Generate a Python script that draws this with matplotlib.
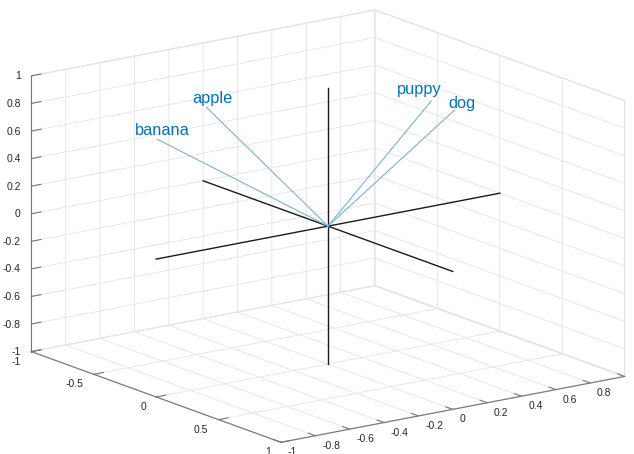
import numpy as np
import matplotlib.pyplot as plt
from matplotlib.transforms import offset_copy

plt.rcParams['font.family'] = ['Liberation Sans', 'DejaVu Sans']
plt.rcParams['grid.color'] = '#e4e4e4'
plt.rcParams['grid.linewidth'] = 0.6

# word vectors
words = ['banana', 'apple', 'puppy', 'dog']
vec_x = [-0.47, -0.34, 0.29, 0.35]
vec_y = [-0.65, -0.46, 0.39, 0.48]
vec_z = [0.63, 0.86, 0.91, 0.84]

# label offsets from the vector tips, in points
label_dx = [-16, -10, -24.5, -4.3]
label_dy = [3, 3, 5, 2]

# reference axes through the origin
span = [-1, 1]
zero = [0, 0]

x_ticks = [-1, -0.5, 0, 0.5, 1]
y_ticks = np.round(np.arange(-1, 1.01, 0.2), 1) + 0.0
z_ticks = np.round(np.arange(-1, 1.01, 0.2), 1) + 0.0

fig = plt.figure(figsize=(6.34, 4.54), dpi=100)
ax = fig.add_axes([0.0038, -0.215, 1.0, 1.396], projection='3d', proj_type='ortho')
ax.view_init(elev=15.3, azim=-36)
ax.set_box_aspect((1, 1, 0.673), zoom=1.019)

ax.plot(span, zero, zero, color='#1a1a1a', lw=1.0)
ax.plot(zero, span, zero, color='#1a1a1a', lw=1.0)
ax.plot(zero, zero, span, color='#1a1a1a', lw=1.0)

for w, x, y, z, dx, dy in zip(words, vec_x, vec_y, vec_z, label_dx, label_dy):
    ax.plot([0, x], [0, y], [0, z], color='#7ab2d4', lw=0.8)
    tr = offset_copy(ax.transData, fig=fig, x=dx, y=dy, units='points')
    ax.text(x, y, z, w, transform=tr, ha='left', va='baseline',
            fontsize=11.8, color='#0072bd')

ax.set_xlim(-1, 1, view_margin=0)
ax.set_ylim(-1, 1, view_margin=0)
ax.set_zlim(-1, 1, view_margin=0)
ax.set_xticks(x_ticks)
ax.set_yticks(y_ticks)
ax.set_zticks(z_ticks)
ax.set_xticklabels([f'{t:g}' for t in x_ticks])
# the last y label falls outside the figure
ax.set_yticklabels([f'{t:g}' for t in y_ticks[:-1]] + [''])
ax.set_zticklabels([f'{t:g}' for t in z_ticks])
ax.zaxis.set_ticks_position('lower')

ax.grid(True)
for axis in (ax.xaxis, ax.yaxis, ax.zaxis):
    axis.set_pane_color((1, 1, 1, 1))
    axis.pane.set_edgecolor('#e4e4e4')
    axis.line.set_color('#777777')
    axis.line.set_linewidth(0.8)
    axis._axinfo['tick']['inward_factor'] = 0.0
    axis._axinfo['tick']['outward_factor'] = 0.35
ax.tick_params(colors='#777777', labelcolor='#262626', labelsize=7.5)
ax.tick_params(axis='x', pad=-1)
ax.tick_params(axis='y', pad=-1.5)
ax.tick_params(axis='z', pad=-3.8)

for lab in ax.xaxis.get_ticklabels():
    lab.set_horizontalalignment('right')
    lab.set_verticalalignment('center')
for lab in ax.yaxis.get_ticklabels():
    lab.set_horizontalalignment('left')
    lab.set_verticalalignment('center')
for lab in ax.zaxis.get_ticklabels():
    lab.set_horizontalalignment('right')
    lab.set_verticalalignment('center_baseline')

fig.savefig('out.png', dpi=100)
